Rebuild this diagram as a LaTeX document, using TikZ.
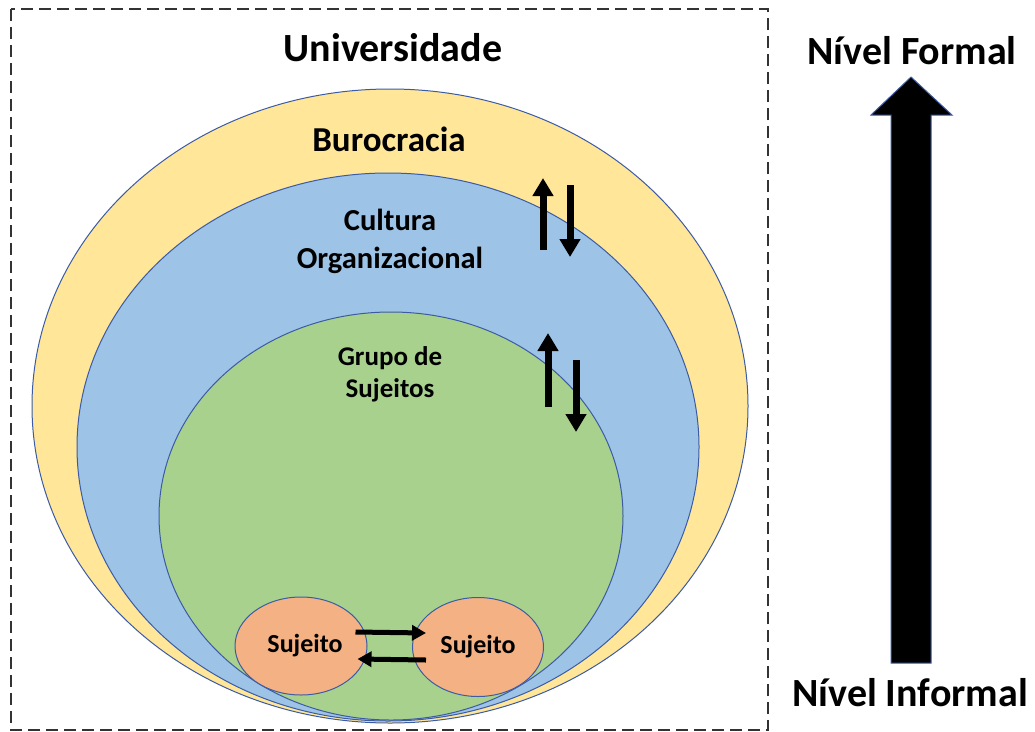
\documentclass[tikz,border=0pt]{standalone}
\usepackage{fontspec}
\setmainfont{Carlito}
\usepackage{xcolor}
\usepackage{tikz}
\usetikzlibrary{positioning,arrows.meta,shapes.geometric,calc}

\definecolor{buroyellow}{HTML}{FFE699}
\definecolor{cultblue}{HTML}{9DC3E6}
\definecolor{grupogreen}{HTML}{A9D18E}
\definecolor{sujorange}{HTML}{F4B183}
\definecolor{edgeblue}{HTML}{3B5BA5}

\begin{document}
\begin{tikzpicture}[x=1pt, y=-1pt,
	ring/.style={draw=edgeblue, line width=1pt, ellipse, inner sep=0pt},
	lbl/.style 2 args={font=\bfseries\fontsize{#1}{#2}\selectfont, align=center, inner sep=0pt},
	flow/.style={line width=5pt, -{Triangle[width=15pt, length=14pt]}},
	updown/.style={line width=7pt, -{Triangle[width=20pt, length=18pt]}}]
	\useasboundingbox (0,0) rectangle (1035,731);
	\draw[dashed, dash pattern=on 12pt off 6pt, line width=1.5pt, black!80] (11,9) rectangle (768,730);
	% nested levels
	\node[ring, fill=buroyellow, minimum width=716pt, minimum height=634pt] (buro) at (390,406) {};
	\node[ring, fill=cultblue, minimum width=622pt, minimum height=548pt] (cultura) at (388,447) {};
	\node[ring, fill=grupogreen, minimum width=464pt, minimum height=408pt] (grupo) at (391,516) {};
	\node[ring, fill=sujorange, minimum width=132pt, minimum height=98pt] (sujA) at (301,646) {};
	\node[ring, fill=sujorange, minimum width=131pt, minimum height=99pt] (sujB) at (478,647) {};
	% labels
	\node[lbl={40}{48}] (uni) at (393,48) {Universidade};
	\node[lbl={35}{42}] (burotxt) at (389,139) {Burocracia};
	\node[lbl={30.5}{38}] (culttxt) at (390,241) {Cultura\\Organizacional};
	\node[lbl={27}{32}] (grupotxt) at (390,374) {Grupo de\\Sujeitos};
	\node[lbl={26}{30}] at ([xshift=4pt]sujA) {Sujeito};
	\node[lbl={26}{30}] at (sujB) {Sujeito};
	% exchange between levels
	\coordinate (upA) at (543,250);
	\coordinate (downA) at (570,185);
	\coordinate (upB) at (548,407);
	\coordinate (downB) at (576,360);
	\draw[updown] (upA) -- ++(0,-72);
	\draw[updown] (downA) -- ++(0,72);
	\draw[updown] (upB) -- ++(0,-74);
	\draw[updown] (downB) -- ++(0,72);
	\draw[flow] ($(sujA.east)+(-12,-14)$) -- ($(sujB.west)+(14,-14)$);
	\draw[flow] ($(sujB.west)+(14,13)$) -- ($(sujA.east)+(-10,13)$);
	% formal / informal scale
	\node[lbl={40}{48}] (formal) at (912,51) {Nível Formal};
	\node[lbl={40}{48}] (informal) at (910,693) {Nível Informal};
	\draw[edgeblue, line width=1pt, fill=black] (891,663) -- (891,115) -- (871,115) -- (911,77) -- (952,115) -- (931,115) -- (931,663) -- cycle;
\end{tikzpicture}
\end{document}
